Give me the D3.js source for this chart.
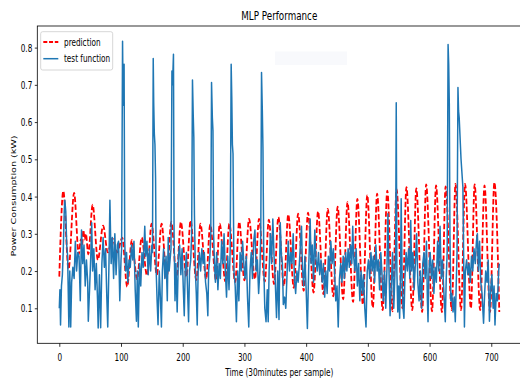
<!DOCTYPE html>
<html><head><meta charset="utf-8">
<script src="https://cdn.jsdelivr.net/npm/d3@7"></script>
<style>html,body{margin:0;padding:0;background:#fff;} svg{display:block;}</style>
</head><body>
<svg id="chart" width="520" height="379"></svg>
<script>
const chartTitle = "MLP Performance";
const xLabel = "Time (30minutes per sample)";
const yLabel = "Power Consumption (kW)";
const seriesNames = ["prediction", "test function"];
const xTicks = [0, 100, 200, 300, 400, 500, 600, 700];
const yTicks = [0.1, 0.2, 0.3, 0.4, 0.5, 0.6, 0.7, 0.8];

// prediction: peaks and troughs
const predTime = [
  0, 6.5, 15, 24, 31.5, 35, 37, 39, 41, 43,
  47, 54, 62.5, 71, 78.5, 86, 94, 102, 110, 117.5,
  126, 133.5, 142, 149.6, 158, 165.8, 174, 181.5, 190, 197,
  206, 212.7, 222, 228.7, 238, 244.5, 254, 260, 269, 275.5,
  285, 291.5, 300, 307.5, 317, 323.6, 333, 339.5, 348, 355,
  364, 371, 380, 387, 396, 403, 412, 419.3, 428, 435,
  444, 451, 460, 467, 476, 483, 492, 499, 508, 515,
  524, 531.5, 540, 546.5, 556, 562.5, 572, 578.5, 588, 594.5,
  604, 610.5, 620, 626, 636, 642, 651, 657.5, 667, 673,
  682, 689, 698, 705, 713
];
const predKW = [
  0.185, 0.415, 0.205, 0.41, 0.245, 0.285, 0.27, 0.31, 0.285, 0.30,
  0.245, 0.378, 0.23, 0.322, 0.25, 0.288, 0.25, 0.29, 0.158, 0.283,
  0.178, 0.29, 0.188, 0.327, 0.19, 0.327, 0.18, 0.332, 0.183, 0.332,
  0.185, 0.336, 0.176, 0.327, 0.178, 0.325, 0.175, 0.327, 0.172, 0.327,
  0.17, 0.332, 0.175, 0.34, 0.178, 0.34, 0.172, 0.338, 0.165, 0.345,
  0.16, 0.352, 0.155, 0.354, 0.147, 0.357, 0.142, 0.36, 0.138, 0.367,
  0.132, 0.373, 0.124, 0.385, 0.117, 0.394, 0.11, 0.404, 0.102, 0.408,
  0.095, 0.416, 0.092, 0.42, 0.1, 0.425, 0.095, 0.422, 0.09, 0.433,
  0.092, 0.43, 0.09, 0.427, 0.095, 0.434, 0.095, 0.434, 0.1, 0.433,
  0.095, 0.43, 0.09, 0.438, 0.09
];

// test function: samples
const testTime = [
  0, 1, 2, 3.5, 5, 6.5, 8, 9, 10.5, 12,
  13.5, 15.5, 17, 18.5, 20, 22, 24, 26, 28, 30,
  32, 34, 36, 38, 40, 42, 44, 46, 47, 49,
  51, 52.5, 54, 56, 58, 60, 62, 63, 65, 67,
  69, 71, 73, 75, 77, 78.5, 80.5, 82, 84, 86,
  88, 90, 92, 94, 96, 98, 100, 101, 102.5, 103.5,
  105, 106, 107.5, 109, 111, 113, 115, 117, 119, 121,
  123, 125, 126.5, 128, 130, 132, 134, 136, 138.5, 140,
  142, 144, 146, 148, 150, 151, 152.2, 153, 154, 155,
  156, 157, 158.5, 160, 162, 164, 165.5, 167, 169, 171,
  173, 175, 176.5, 178, 180, 181, 182.5, 183.5, 185, 186,
  187.5, 189, 191, 193, 195, 197, 199, 201, 202.5, 204,
  206, 208, 209.5, 211, 213, 214.5, 215.8, 217, 218, 219,
  220.5, 222, 223.5, 225, 227, 229, 231, 233, 235, 237,
  239, 240.7, 242, 244, 245.5, 246.7, 248, 249, 250, 251.5,
  253, 255, 257, 259, 261, 263, 265, 267, 269, 271,
  273, 275, 277, 278.5, 279.5, 280.5, 281.5, 283, 285, 287,
  289, 291, 293, 295, 297, 299, 301, 303, 305, 307,
  309, 311, 313, 315, 317, 319, 321, 323, 325, 326.5,
  327.7, 329, 330, 331.5, 333, 335, 337, 338.5, 340, 342,
  344, 346, 348, 350, 352, 354, 356, 358, 360, 361.5,
  363, 365, 367, 369, 371, 373, 375, 377, 379, 381,
  383, 385, 387, 389, 391, 392.5, 394, 396, 398, 400,
  402, 404, 406.5, 408, 410, 412, 414, 416, 418, 420,
  422, 424, 426, 428, 430, 432, 434, 436, 438, 440,
  442, 444, 446, 448, 450, 452, 454, 456, 458, 460,
  462, 464, 466, 468, 470, 472, 474, 475.5, 477, 479,
  481, 483, 485, 487, 489, 491, 493, 495, 497, 499,
  501, 503, 505, 507, 509, 511, 513, 515, 517, 519,
  521, 523, 525, 527, 529, 531, 532.5, 534, 536, 538,
  540, 542, 544, 545, 546, 547, 548.5, 550, 551.5, 553,
  554, 555.5, 557, 558.5, 560, 562, 564, 566, 568, 569.5,
  571, 573, 575, 577, 579, 581, 583, 585, 587, 589,
  591, 593, 595, 596.5, 597.5, 599, 601, 603, 605, 607,
  609, 611, 613, 615, 617, 619, 621, 623, 625.5, 627,
  628.5, 630, 631, 632, 633, 634.5, 636, 638, 640, 641.7,
  643, 644.5, 646, 647, 648, 651, 654, 655.5, 656.5, 658,
  660, 662, 664, 666, 668, 670, 672, 674, 676, 677.5,
  679, 681, 683, 685, 687.5, 689, 691, 693, 695, 697,
  699, 701, 703, 704.5, 706, 708, 710, 712, 713
];
const testKW = [
  0.10, 0.15, 0.055, 0.16, 0.19, 0.26, 0.36, 0.39, 0.36, 0.27,
  0.24, 0.05, 0.20, 0.05, 0.17, 0.21, 0.18, 0.28, 0.20, 0.25,
  0.24, 0.12, 0.31, 0.22, 0.27, 0.16, 0.23, 0.17, 0.065, 0.15,
  0.24, 0.33, 0.20, 0.26, 0.15, 0.22, 0.12, 0.047, 0.19, 0.048,
  0.22, 0.29, 0.21, 0.26, 0.13, 0.05, 0.22, 0.39, 0.22, 0.29,
  0.18, 0.30, 0.19, 0.27, 0.28, 0.12, 0.23, 0.26, 0.817, 0.645,
  0.755, 0.28, 0.20, 0.25, 0.17, 0.23, 0.21, 0.27, 0.23, 0.28,
  0.15, 0.065, 0.20, 0.05, 0.22, 0.16, 0.25, 0.21, 0.32, 0.24,
  0.28, 0.19, 0.26, 0.20, 0.27, 0.25, 0.771, 0.65, 0.568, 0.54,
  0.45, 0.20, 0.12, 0.056, 0.20, 0.12, 0.05, 0.20, 0.26, 0.18,
  0.24, 0.12, 0.29, 0.20, 0.24, 0.26, 0.737, 0.70, 0.782, 0.30,
  0.12, 0.22, 0.09, 0.24, 0.27, 0.19, 0.26, 0.15, 0.08, 0.20,
  0.25, 0.14, 0.064, 0.20, 0.23, 0.30, 0.713, 0.62, 0.559, 0.35,
  0.20, 0.14, 0.055, 0.20, 0.25, 0.20, 0.26, 0.22, 0.25, 0.17,
  0.14, 0.08, 0.20, 0.24, 0.30, 0.706, 0.612, 0.577, 0.30, 0.22,
  0.17, 0.25, 0.15, 0.22, 0.18, 0.28, 0.22, 0.30, 0.20, 0.13,
  0.24, 0.15, 0.26, 0.755, 0.666, 0.54, 0.515, 0.20, 0.16, 0.064,
  0.20, 0.12, 0.25, 0.20, 0.28, 0.22, 0.18, 0.24, 0.13, 0.05,
  0.20, 0.25, 0.18, 0.28, 0.31, 0.20, 0.23, 0.14, 0.20, 0.30,
  0.733, 0.63, 0.532, 0.20, 0.10, 0.064, 0.15, 0.064, 0.20, 0.30,
  0.22, 0.34, 0.24, 0.17, 0.075, 0.20, 0.07, 0.33, 0.24, 0.22,
  0.11, 0.13, 0.10, 0.19, 0.28, 0.20, 0.25, 0.22, 0.30, 0.18,
  0.14, 0.20, 0.17, 0.22, 0.28, 0.32, 0.21, 0.16, 0.24, 0.15,
  0.046, 0.20, 0.34, 0.22, 0.27, 0.17, 0.31, 0.23, 0.20, 0.25,
  0.19, 0.23, 0.17, 0.22, 0.13, 0.20, 0.14, 0.24, 0.20, 0.28,
  0.22, 0.26, 0.20, 0.12, 0.16, 0.05, 0.18, 0.22, 0.17, 0.24,
  0.18, 0.25, 0.20, 0.26, 0.21, 0.27, 0.22, 0.32, 0.24, 0.20,
  0.26, 0.16, 0.22, 0.12, 0.20, 0.14, 0.19, 0.10, 0.05, 0.20,
  0.23, 0.18, 0.25, 0.20, 0.24, 0.17, 0.27, 0.20, 0.23, 0.15,
  0.25, 0.19, 0.12, 0.20, 0.10, 0.21, 0.354, 0.22, 0.08, 0.16,
  0.25, 0.10, 0.20, 0.25, 0.652, 0.20, 0.09, 0.16, 0.073, 0.20,
  0.394, 0.18, 0.10, 0.073, 0.18, 0.25, 0.20, 0.26, 0.18, 0.336,
  0.20, 0.25, 0.15, 0.22, 0.30, 0.17, 0.12, 0.20, 0.10, 0.22,
  0.25, 0.18, 0.28, 0.12, 0.064, 0.20, 0.25, 0.18, 0.23, 0.14,
  0.21, 0.17, 0.28, 0.20, 0.32, 0.18, 0.23, 0.15, 0.064, 0.18,
  0.25, 0.808, 0.755, 0.648, 0.30, 0.12, 0.14, 0.09, 0.13, 0.064,
  0.15, 0.25, 0.693, 0.63, 0.612, 0.50, 0.425, 0.20, 0.05, 0.20,
  0.23, 0.19, 0.22, 0.17, 0.24, 0.20, 0.26, 0.22, 0.28, 0.30,
  0.20, 0.28, 0.17, 0.14, 0.06, 0.13, 0.20, 0.17, 0.23, 0.065,
  0.15, 0.19, 0.10, 0.16, 0.055, 0.14, 0.12, 0.20, 0.22
];

const SX = 0.73; // horizontal squeeze of the reference image
const FONT = "DejaVu Sans, Liberation Sans, sans-serif";
const svg = d3.select("#chart");

const x = d3.scaleLinear().domain([-35.65, 748.65]).range([37.3, 521.3]);
const y = d3.scaleLinear().domain([0.006, 0.858]).range([343.3, 26]);

svg.append("defs").append("clipPath").attr("id", "plotclip")
  .append("rect").attr("x", 37.3).attr("y", 26).attr("width", 484).attr("height", 317.3);

// faint background box seen in the reference
svg.append("rect").attr("x", 275).attr("y", 51.5).attr("width", 72).attr("height", 13.5)
  .attr("fill", "#f8f9fc");

const plot = svg.append("g").attr("clip-path", "url(#plotclip)");

const predLine = d3.line().x((d) => x(d[0])).y((d) => y(d[1])).curve(d3.curveMonotoneX);
const testLine = d3.line().x((d) => x(d[0])).y((d) => y(d[1]));

plot.append("path").datum(d3.zip(predTime, predKW))
  .attr("d", predLine).attr("fill", "none").attr("stroke", "#ff0000")
  .attr("stroke-width", 1.8).attr("stroke-dasharray", "5.5,2.4");

plot.append("path").datum(d3.zip(testTime, testKW))
  .attr("d", testLine).attr("fill", "none").attr("stroke", "#1f77b4")
  .attr("stroke-width", 1.5).attr("stroke-linejoin", "round");

// axes
const xAxis = d3.axisBottom(x).tickValues(xTicks).tickSize(3.5).tickFormat(d3.format("d"));
const gx = svg.append("g").attr("transform", "translate(0,343.3)").call(xAxis);
gx.select(".domain").remove();
gx.selectAll(".tick line").attr("stroke", "#000").attr("stroke-width", 0.8);
gx.selectAll(".tick text").attr("y", 17.3).attr("dy", null)
  .attr("transform", `scale(${SX},1)`).attr("font-family", FONT).attr("font-size", 10).attr("fill", "#000");

const yAxis = d3.axisLeft(y).tickValues(yTicks).tickSize(2.5).tickFormat(d3.format(".1f"));
const gy = svg.append("g").attr("transform", "translate(37.3,0)").call(yAxis);
gy.select(".domain").remove();
gy.selectAll(".tick line").attr("stroke", "#000").attr("stroke-width", 0.8);
gy.selectAll(".tick text").attr("x", -5 / SX).attr("dy", null).attr("y", 3.6)
  .attr("transform", `scale(${SX},1)`).attr("font-family", FONT).attr("font-size", 10).attr("fill", "#000");

// frame
const frame = svg.append("g").attr("stroke", "#000").attr("stroke-width", 0.8).attr("fill", "none");
frame.append("rect").attr("x", 37.3).attr("y", 26).attr("width", 484).attr("height", 317.3);

// titles
svg.append("text").attr("transform", `translate(279.3,20) scale(${SX},1)`)
  .attr("text-anchor", "middle").attr("font-family", FONT).attr("font-size", 12).attr("fill", "#000")
  .text(chartTitle);
svg.append("text").attr("transform", `translate(279.3,376) scale(${SX},1)`)
  .attr("text-anchor", "middle").attr("font-family", FONT).attr("font-size", 10).attr("fill", "#000")
  .text(xLabel);
svg.append("text").attr("transform", `translate(16,196) scale(${SX},1) rotate(-90)`)
  .attr("text-anchor", "middle").attr("font-family", FONT).attr("font-size", 9.6).attr("fill", "#000")
  .text(yLabel);

// legend
const lg = svg.append("g");
lg.append("rect").attr("x", 40.7).attr("y", 31.7).attr("width", 72).attr("height", 38.3).attr("rx", 2)
  .attr("fill", "#fff").attr("fill-opacity", 0.8).attr("stroke", "#cccccc").attr("stroke-width", 0.8);
const legendStyles = [
  { color: "#ff0000", dash: "4,1.75", w: 1.8 },
  { color: "#1f77b4", dash: null, w: 1.5 }
];
const legendY = d3.scalePoint().domain(seriesNames).range([42, 58.7]);
seriesNames.forEach((name, i) => {
  const yy = legendY(name);
  lg.append("line").attr("x1", 43.3).attr("x2", 58.3).attr("y1", yy).attr("y2", yy)
    .attr("stroke", legendStyles[i].color).attr("stroke-width", legendStyles[i].w)
    .attr("stroke-dasharray", legendStyles[i].dash);
  lg.append("text").attr("transform", `translate(64,${yy + 3.6}) scale(${SX},1)`)
    .attr("font-family", FONT).attr("font-size", 10).attr("fill", "#000").text(name);
});
</script>
</body></html>
